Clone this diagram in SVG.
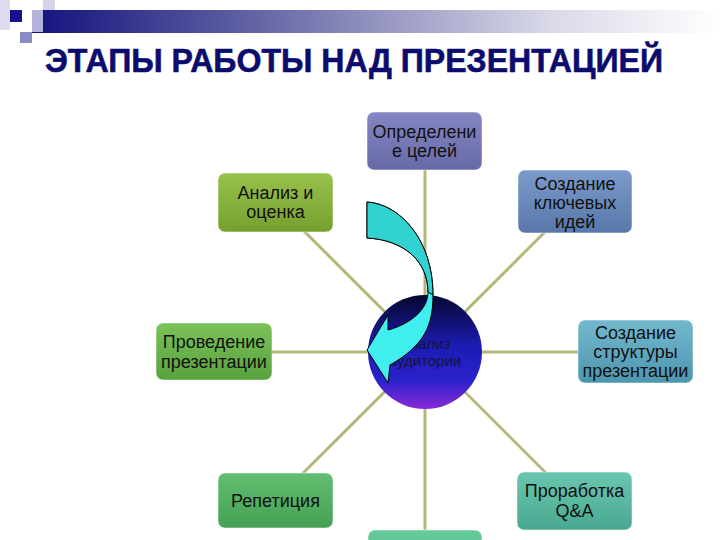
<svg xmlns="http://www.w3.org/2000/svg" width="720" height="540" viewBox="0 0 720 540">
<style>
.lbl{font-family:"Liberation Sans",Arial,sans-serif;font-size:18px;fill:#111;text-anchor:middle}
.clbl{font-family:"Liberation Sans",Arial,sans-serif;font-size:15px;fill:#14143a;text-anchor:middle}
.box{stroke:#ffffff;stroke-opacity:0.5;stroke-width:1}
.conn{stroke:#b5b57c;stroke-width:3;fill:none}
</style>
<defs>
<linearGradient id="bar" x1="0" y1="0" x2="1" y2="0">
<stop offset="0" stop-color="#12127e"/>
<stop offset="0.35" stop-color="#6a6aa8"/>
<stop offset="0.75" stop-color="#d8d8e8"/>
<stop offset="1" stop-color="#ffffff"/>
</linearGradient>
<linearGradient id="gPurple" x1="0" y1="0" x2="0" y2="1"><stop offset="0" stop-color="#8587c4"/><stop offset="1" stop-color="#686aa6"/></linearGradient>
<linearGradient id="gOlive" x1="0" y1="0" x2="0" y2="1"><stop offset="0" stop-color="#98c04c"/><stop offset="1" stop-color="#76a02e"/></linearGradient>
<linearGradient id="gSteel" x1="0" y1="0" x2="0" y2="1"><stop offset="0" stop-color="#7c9acb"/><stop offset="1" stop-color="#5878aa"/></linearGradient>
<linearGradient id="gGreen" x1="0" y1="0" x2="0" y2="1"><stop offset="0" stop-color="#7cc25a"/><stop offset="1" stop-color="#58a23e"/></linearGradient>
<linearGradient id="gTealBlue" x1="0" y1="0" x2="0" y2="1"><stop offset="0" stop-color="#74b8cf"/><stop offset="1" stop-color="#4c96ae"/></linearGradient>
<linearGradient id="gGreen2" x1="0" y1="0" x2="0" y2="1"><stop offset="0" stop-color="#62be70"/><stop offset="1" stop-color="#44a052"/></linearGradient>
<linearGradient id="gTeal" x1="0" y1="0" x2="0" y2="1"><stop offset="0" stop-color="#6cc6b0"/><stop offset="1" stop-color="#48a890"/></linearGradient>
<linearGradient id="gMint" x1="0" y1="0" x2="0" y2="1"><stop offset="0" stop-color="#66cc98"/><stop offset="1" stop-color="#50b888"/></linearGradient>
<linearGradient id="gBall" x1="0" y1="0" x2="0" y2="1">
<stop offset="0" stop-color="#06062e"/>
<stop offset="0.45" stop-color="#1c1cb4"/>
<stop offset="0.75" stop-color="#2a22cc"/>
<stop offset="1" stop-color="#8a2ad6"/>
</linearGradient>
</defs>
<rect width="720" height="540" fill="#ffffff"/>
<g id="decoration">
<rect x="32" y="10" width="688" height="23" fill="url(#bar)"/>
<rect x="0" y="0" width="10" height="30" fill="#dcdcee"/>
<rect x="10" y="10" width="12" height="12" fill="#12128c"/>
<rect x="32" y="10" width="11" height="22" fill="#b4b4da"/>
<rect x="20" y="32" width="12" height="11" fill="#8c8cc4"/>
<rect x="43" y="0" width="12" height="10" fill="#d4d4ea"/>
</g>
<g id="title">
<text x="45" y="72" textLength="618" lengthAdjust="spacingAndGlyphs" font-family="'Liberation Sans',Arial,sans-serif" font-size="34" font-weight="bold" fill="#0c0c6e" stroke="#0c0c6e" stroke-width="0.6">ЭТАПЫ РАБОТЫ НАД ПРЕЗЕНТАЦИЕЙ</text>
</g>
<g id="connectors">
<line class="conn" x1="425" y1="141" x2="425" y2="540"/>
<line class="conn" x1="214" y1="352" x2="635" y2="352"/>
<line class="conn" x1="275" y1="202" x2="574" y2="501"/>
<line class="conn" x1="575" y1="202" x2="275" y2="501"/>
</g>
<g id="node-goals">
<rect class="box" x="367" y="112" width="115" height="58" rx="7" fill="url(#gPurple)"/>
<text class="lbl" x="424.5" y="138">Определени</text>
<text class="lbl" x="424.5" y="157">е целей</text>
</g>
<g id="node-analysis">
<rect class="box" x="218" y="173" width="115" height="59" rx="7" fill="url(#gOlive)"/>
<text class="lbl" x="275.5" y="199">Анализ и</text>
<text class="lbl" x="275.5" y="218">оценка</text>
</g>
<g id="node-ideas">
<rect class="box" x="518" y="170" width="114" height="63" rx="7" fill="url(#gSteel)"/>
<text class="lbl" x="575" y="190">Создание</text>
<text class="lbl" x="575" y="209">ключевых</text>
<text class="lbl" x="575" y="228">идей</text>
</g>
<g id="node-delivery">
<rect class="box" x="156" y="323" width="116" height="57" rx="7" fill="url(#gGreen)"/>
<text class="lbl" x="214" y="348">Проведение</text>
<text class="lbl" x="214" y="368">презентации</text>
</g>
<g id="node-structure">
<rect class="box" x="578" y="320" width="115" height="63" rx="7" fill="url(#gTealBlue)"/>
<text class="lbl" x="635.5" y="339">Создание</text>
<text class="lbl" x="635.5" y="358">структуры</text>
<text class="lbl" x="635.5" y="377">презентации</text>
</g>
<g id="node-rehearsal">
<rect class="box" x="218" y="473" width="115" height="55" rx="7" fill="url(#gGreen2)"/>
<text class="lbl" x="275.5" y="507">Репетиция</text>
</g>
<g id="node-qa">
<rect class="box" x="517" y="472" width="115" height="58" rx="7" fill="url(#gTeal)"/>
<text class="lbl" x="574.5" y="497">Проработка</text>
<text class="lbl" x="574.5" y="517">Q&amp;A</text>
</g>
<g id="node-bottom">
<rect class="box" x="368" y="530" width="114" height="40" rx="7" fill="url(#gMint)"/>
</g>
<g id="node-audience">
<circle cx="425" cy="352" r="57" fill="url(#gBall)"/>
<text class="clbl" x="425" y="349">Анализ</text>
<text class="clbl" x="425" y="366">аудитории</text>
</g>
<g id="curved-arrow">
<path d="M367,202 C400,204 433,240 433,295 C433,325 425,345 390,365 L388,383 L367,350 L388,315 L388,330 C410,324 428,310 428,292 C428,262 405,240 367,238 Z" fill="#40eeee" stroke="#000" stroke-width="1"/>
<path d="M367,202 C400,204 433,240 433,295 L428,292 C428,262 405,240 367,238 Z" fill="#33d2d2" stroke="#000" stroke-width="1"/>
</g>
</svg>
